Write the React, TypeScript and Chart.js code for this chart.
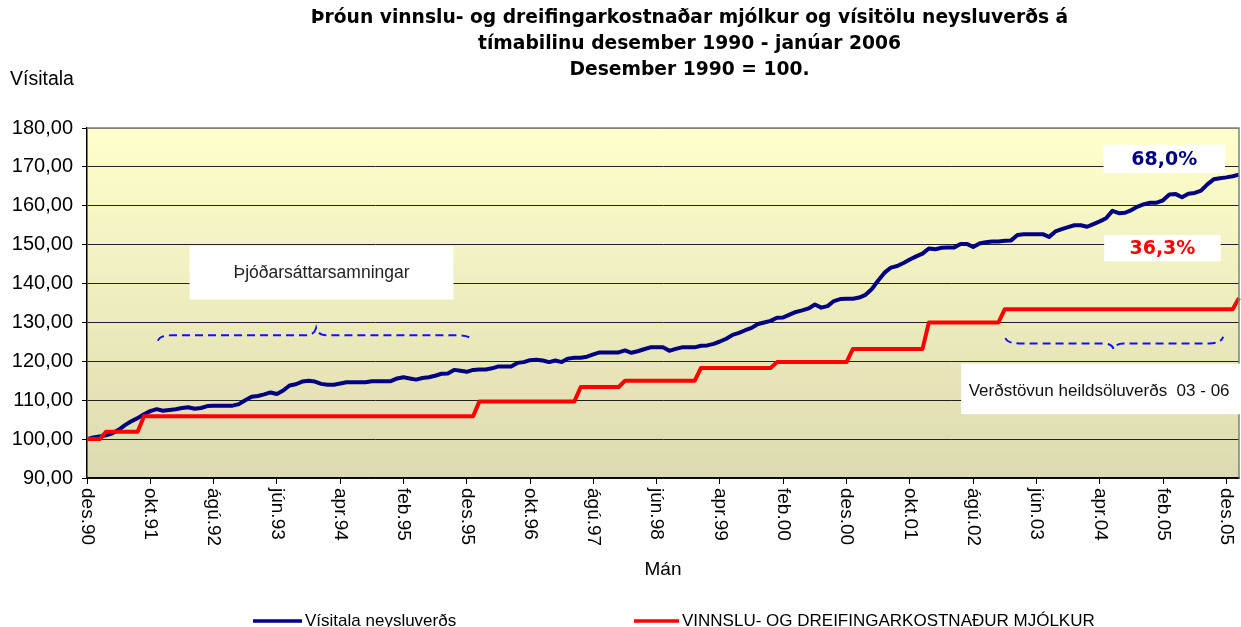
import React, { useEffect, useRef } from 'react';
import { Chart, registerables } from 'chart.js';

Chart.register(...registerables);

// ---------- categories ----------
const MONTHS = ['jan', 'feb', 'mar', 'apr', 'maí', 'jún', 'júl', 'ágú', 'sep', 'okt', 'nóv', 'des'];
const START_MONTH_INDEX = 11; // des
const START_YEAR = 1990;
const POINT_COUNT = 183;
const LABELS: string[] = [];
for (let i = 0; i < POINT_COUNT; i++) {
  const m = (START_MONTH_INDEX + i) % 12;
  const y = (START_YEAR + Math.floor((START_MONTH_INDEX + i) / 12)) % 100;
  LABELS.push(`${MONTHS[m]}.${String(y).padStart(2, '0')}`);
}
const LABEL_EVERY = 10;

// ---------- series ----------
const CPI = [
  100.0, 100.4, 100.7, 101.0, 101.5, 102.4, 103.6, 104.6, 105.4, 106.4,
  107.2, 107.7, 107.3, 107.5, 107.7, 108.0, 108.2, 107.8, 108.0, 108.5,
  108.6, 108.6, 108.6, 108.6, 109.0, 110.0, 110.9, 111.1, 111.5, 112.0,
  111.6, 112.5, 113.8, 114.1, 114.8, 115.0, 114.8, 114.2, 114.0, 114.0,
  114.3, 114.6, 114.6, 114.6, 114.6, 114.9, 114.9, 114.9, 114.9, 115.6,
  115.9, 115.6, 115.3, 115.7, 115.9, 116.3, 116.8, 116.9, 117.8, 117.6,
  117.3, 117.8, 117.9, 117.9, 118.2, 118.7, 118.7, 118.7, 119.6, 119.8,
  120.3, 120.4, 120.2, 119.8, 120.2, 119.8, 120.7, 120.9, 120.9, 121.2,
  121.8, 122.3, 122.3, 122.3, 122.3, 122.8, 122.2, 122.6, 123.1, 123.6,
  123.6, 123.6, 122.7, 123.2, 123.6, 123.6, 123.6, 124.0, 124.1, 124.5,
  125.1, 125.8, 126.8, 127.3, 128.0, 128.6, 129.6, 130.0, 130.4, 131.2,
  131.3, 132.0, 132.7, 133.1, 133.6, 134.6, 133.8, 134.2, 135.5, 136.0,
  136.1, 136.1, 136.4, 137.1, 138.6, 140.8, 142.8, 144.1, 144.5, 145.3,
  146.2, 147.0, 147.7, 149.0, 148.8, 149.2, 149.3, 149.3, 150.2, 150.2,
  149.4, 150.3, 150.6, 150.8, 150.8, 151.0, 151.1, 152.5, 152.7, 152.7,
  152.7, 152.7, 152.0, 153.4, 154.0, 154.5, 155.0, 155.0, 154.6, 155.3,
  156.0, 156.8, 158.7, 158.1, 158.2, 158.9, 159.8, 160.4, 160.8, 160.8,
  161.4, 162.9, 163.0, 162.2, 163.1, 163.3, 163.9, 165.5, 166.8, 167.1,
  167.3, 167.6, 168.0,
];

const MILK_COST = [
  100.0, 100.0, 100.0, 101.9, 101.9, 101.9, 101.9, 101.9, 101.9, 105.9,
  105.9, 105.9, 105.9, 105.9, 105.9, 105.9, 105.9, 105.9, 105.9, 105.9,
  105.9, 105.9, 105.9, 105.9, 105.9, 105.9, 105.9, 105.9, 105.9, 105.9,
  105.9, 105.9, 105.9, 105.9, 105.9, 105.9, 105.9, 105.9, 105.9, 105.9,
  105.9, 105.9, 105.9, 105.9, 105.9, 105.9, 105.9, 105.9, 105.9, 105.9,
  105.9, 105.9, 105.9, 105.9, 105.9, 105.9, 105.9, 105.9, 105.9, 105.9,
  105.9, 105.9, 109.7, 109.7, 109.7, 109.7, 109.7, 109.7, 109.7, 109.7,
  109.7, 109.7, 109.7, 109.7, 109.7, 109.7, 109.7, 109.7, 113.4, 113.4,
  113.4, 113.4, 113.4, 113.4, 113.4, 115.0, 115.0, 115.0, 115.0, 115.0,
  115.0, 115.0, 115.0, 115.0, 115.0, 115.0, 115.0, 118.3, 118.3, 118.3,
  118.3, 118.3, 118.3, 118.3, 118.3, 118.3, 118.3, 118.3, 118.3, 119.8,
  119.8, 119.8, 119.8, 119.8, 119.8, 119.8, 119.8, 119.8, 119.8, 119.8,
  119.8, 123.2, 123.2, 123.2, 123.2, 123.2, 123.2, 123.2, 123.2, 123.2,
  123.2, 123.2, 123.2, 130.0, 130.0, 130.0, 130.0, 130.0, 130.0, 130.0,
  130.0, 130.0, 130.0, 130.0, 130.0, 133.4, 133.4, 133.4, 133.4, 133.4,
  133.4, 133.4, 133.4, 133.4, 133.4, 133.4, 133.4, 133.4, 133.4, 133.4,
  133.4, 133.4, 133.4, 133.4, 133.4, 133.4, 133.4, 133.4, 133.4, 133.4,
  133.4, 133.4, 133.4, 133.4, 133.4, 133.4, 133.4, 133.4, 133.4, 133.4,
  133.4, 133.4, 136.3,
];

// ---------- axis ----------
const Y_MIN = 90;
const Y_MAX = 180;
const Y_STEP = 10;

// ---------- texts ----------
const TITLE_LINES = [
  'Þróun vinnslu- og dreifingarkostnaðar mjólkur og vísitölu neysluverðs á',
  'tímabilinu desember 1990 - janúar 2006',
  'Desember 1990 = 100.',
];
const Y_TITLE = 'Vísitala';
const X_TITLE = 'Mán';
const SERIES_NAMES = ['Vísitala neysluverðs', 'VINNSLU- OG DREIFINGARKOSTNAÐUR MJÓLKUR'];
const CPI_CHANGE = '68,0%';
const MILK_CHANGE = '36,3%';
const NOTE_AGREEMENT = 'Þjóðarsáttarsamningar';
const NOTE_FREEZE = 'Verðstövun heildsöluverðs  03 - 06';

// ---------- colours ----------
const NAVY = '#000080';
const RED = '#FF0000';
const BRACE_BLUE = '#1010FF';
const SANS = '"Liberation Sans", Arial, sans-serif';
const BOLD_SANS = '"DejaVu Sans", Verdana, sans-serif';

const decorPlugin = {
  id: 'decor',
  beforeDraw(chart: any) {
    const { ctx, chartArea: a } = chart;
    ctx.save();
    const g = ctx.createLinearGradient(0, a.top, 0, a.bottom);
    g.addColorStop(0, '#FFFFCC');
    g.addColorStop(1, '#DCDAB0');
    ctx.fillStyle = g;
    ctx.fillRect(a.left, a.top, a.right - a.left, a.bottom - a.top);
    ctx.restore();
  },
  afterDatasetsDraw(chart: any) {
    const { ctx, chartArea: a } = chart;
    const xs = chart.scales.x;
    const ys = chart.scales.y;
    const X = (v: number) => xs.getPixelForValue(v);
    const Y = (v: number) => ys.getPixelForValue(v);

    // right and top border
    ctx.save();
    ctx.strokeStyle = '#808080';
    ctx.lineWidth = 1.5;
    ctx.beginPath();
    ctx.moveTo(a.left, a.top);
    ctx.lineTo(a.right, a.top);
    ctx.lineTo(a.right, a.bottom);
    ctx.stroke();
    ctx.restore();

    const box = (i0: number, i1: number, v0: number, v1: number, right?: number) => {
      const x0 = X(i0);
      const x1 = right !== undefined ? right : X(i1);
      const y0 = Y(v0);
      const y1 = Y(v1);
      ctx.fillStyle = '#FFFFFF';
      ctx.fillRect(x0, y0, x1 - x0, y1 - y0);
      return { x0, x1, y0, y1 };
    };

    ctx.save();
    // Þjóðarsáttarsamningar
    let b = box(16.2, 57.9, 149.6, 135.9);
    ctx.fillStyle = '#222';
    ctx.font = `17.5px ${SANS}`;
    ctx.textAlign = 'center';
    ctx.textBaseline = 'middle';
    ctx.fillText(NOTE_AGREEMENT, (b.x0 + b.x1) / 2, (b.y0 + b.y1) / 2);

    // 68,0%
    b = box(160.6, 179.8, 175.7, 168.4);
    ctx.fillStyle = NAVY;
    ctx.font = `bold 19px ${BOLD_SANS}`;
    ctx.fillText(CPI_CHANGE, (b.x0 + b.x1) / 2, (b.y0 + b.y1) / 2 + 1);

    // 36,3%
    b = box(160.7, 179.1, 152.4, 145.7);
    ctx.fillStyle = RED;
    ctx.fillText(MILK_CHANGE, (b.x0 + b.x1) / 2, (b.y0 + b.y1) / 2 + 1);

    // Verðstövun
    b = box(138.1, 182, 119.4, 106.4, chart.width);
    ctx.fillStyle = '#111';
    ctx.font = `17px ${SANS}`;
    ctx.textAlign = 'left';
    ctx.fillText(NOTE_FREEZE, X(139.3), Y(112.3));
    ctx.restore();

    // braces
    const brace = (iL: number, iM: number, iR: number, vEndL: number, vEndR: number, vLine: number, vTip: number) => {
      const xl = X(iL), xm = X(iM), xr = X(iR);
      const yl = Y(vEndL), yr = Y(vEndR), yLine = Y(vLine), yTip = Y(vTip);
      ctx.beginPath();
      ctx.moveTo(xl, yl);
      ctx.quadraticCurveTo(xl + 2, yLine, xl + 14, yLine);
      ctx.lineTo(xm - 10, yLine);
      ctx.quadraticCurveTo(xm - 2, yLine, xm, yTip);
      ctx.quadraticCurveTo(xm + 2, yLine, xm + 10, yLine);
      ctx.lineTo(xr - 14, yLine);
      ctx.quadraticCurveTo(xr - 2, yLine, xr, yr);
      ctx.stroke();
    };
    ctx.save();
    ctx.strokeStyle = BRACE_BLUE;
    ctx.lineWidth = 2;
    ctx.setLineDash([8, 5]);
    brace(11.2, 36.2, 60.8, 125.3, 125.5, 126.7, 128.6);
    brace(145.1, 162.2, 179.5, 126.0, 126.3, 124.6, 123.2);
    ctx.restore();
  },
  afterDraw(chart: any) {
    const { ctx, chartArea: a } = chart;
    const xs = chart.scales.x;
    ctx.save();

    // title
    ctx.fillStyle = '#000';
    ctx.font = `bold 18.7px ${BOLD_SANS}`;
    ctx.textAlign = 'center';
    ctx.textBaseline = 'middle';
    const cx = a.left + (a.right - a.left) * 0.523;
    TITLE_LINES.forEach((t, k) => ctx.fillText(t, cx, 18 + k * 26));

    // y title
    ctx.font = `19.5px ${SANS}`;
    ctx.textAlign = 'left';
    ctx.fillText(Y_TITLE, 10, 80);

    // x tick labels (rotated clockwise)
    ctx.font = `19px ${SANS}`;
    for (let i = 0; i < LABELS.length; i += LABEL_EVERY) {
      const x = xs.getPixelForValue(i);
      ctx.save();
      ctx.translate(x, a.bottom + 10);
      ctx.rotate(Math.PI / 2);
      ctx.textAlign = 'left';
      ctx.textBaseline = 'middle';
      ctx.fillText(LABELS[i], 0, 0);
      ctx.restore();
    }

    // x title
    ctx.textAlign = 'center';
    ctx.fillText(X_TITLE, a.left + (a.right - a.left) * 0.5, 570);

    // legend
    const legendY = 621;
    const items = [
      { color: NAVY, x0: 253, x1: 302, name: SERIES_NAMES[0] },
      { color: RED, x0: 634, x1: 679, name: SERIES_NAMES[1] },
    ];
    ctx.font = `17px ${SANS}`;
    ctx.textAlign = 'left';
    items.forEach((it) => {
      ctx.strokeStyle = it.color;
      ctx.lineWidth = 3.5;
      ctx.beginPath();
      ctx.moveTo(it.x0, legendY);
      ctx.lineTo(it.x1, legendY);
      ctx.stroke();
      ctx.fillStyle = '#000';
      ctx.fillText(it.name, it.x1 + 3, legendY);
    });
    ctx.restore();
  },
};

export default function App() {
  const ref = useRef<HTMLCanvasElement | null>(null);

  useEffect(() => {
    document.body.style.margin = '0';
    const canvas = ref.current;
    if (!canvas) return;
    const chart = new Chart(canvas, {
      type: 'line',
      data: {
        labels: LABELS,
        datasets: [
          {
            label: SERIES_NAMES[1],
            data: MILK_COST,
            borderColor: RED,
            borderWidth: 4,
            pointRadius: 0,
            tension: 0,
            fill: false,
            order: 0,
            borderJoinStyle: 'round',
          },
          {
            label: SERIES_NAMES[0],
            data: CPI,
            borderColor: NAVY,
            borderWidth: 4,
            pointRadius: 0,
            tension: 0,
            fill: false,
            order: 1,
            borderJoinStyle: 'round',
          },
        ],
      },
      options: {
        responsive: false,
        animation: false,
        devicePixelRatio: 1,
        layout: { padding: { top: 128, right: 2, left: 0, bottom: 0 } },
        plugins: {
          legend: { display: false },
          title: { display: false },
          tooltip: { enabled: false },
        },
        scales: {
          x: {
            type: 'category',
            offset: false,
            ticks: { display: false },
            grid: {
              drawOnChartArea: false,
              drawTicks: true,
              tickLength: 6,
              color: (c: any) => (c.index % LABEL_EVERY === 0 ? '#000' : 'rgba(0,0,0,0)'),
              tickColor: (c: any) => (c.index % LABEL_EVERY === 0 ? '#000' : 'rgba(0,0,0,0)'),
            },
            border: { display: true, color: '#000', width: 1.5 },
            afterFit: (s: any) => {
              s.height = 149;
            },
          },
          y: {
            min: Y_MIN,
            max: Y_MAX,
            ticks: {
              stepSize: Y_STEP,
              color: '#000',
              padding: 9,
              font: { family: SANS, size: 20 },
              callback: (v: any) => Number(v).toFixed(2).replace('.', ','),
            },
            grid: {
              color: (c: any) => (c.tick && c.tick.value === Y_MAX ? '#808080' : '#222'),
              lineWidth: 1,
              tickLength: 5,
              tickColor: '#000',
            },
            border: { display: true, color: '#000', width: 1.5 },
            afterFit: (s: any) => {
              s.width = 87;
            },
          },
        },
      },
      plugins: [decorPlugin],
    });
    return () => chart.destroy();
  }, []);

  return (
    <div style={{ width: 1241, height: 627, background: '#fff' }}>
      <canvas ref={ref} width={1241} height={627} style={{ display: 'block' }} />
    </div>
  );
}
